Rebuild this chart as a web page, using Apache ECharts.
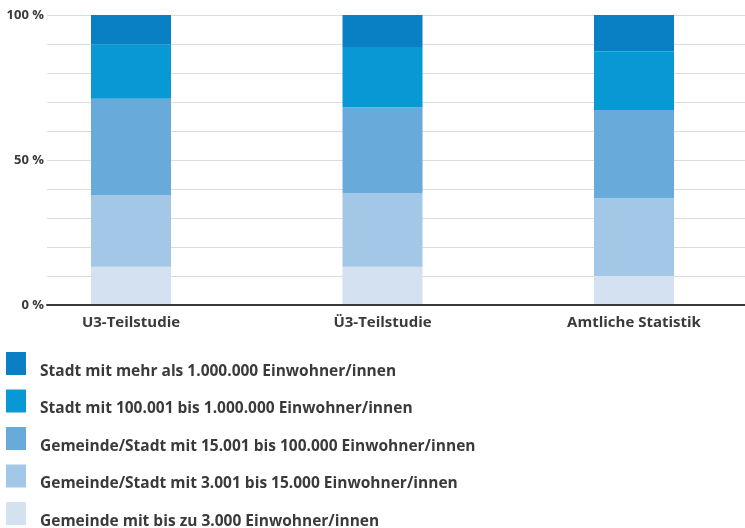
<!DOCTYPE html>
<html>
<head>
<meta charset="utf-8">
<script src="https://cdn.jsdelivr.net/npm/echarts@6/dist/echarts.min.js"></script>
<style>
  html, body { margin: 0; padding: 0; background: #fff; }
  #chart { width: 745px; height: 528px; }
</style>
</head>
<body>
<div id="chart"></div>
<script>
// Kategorien der x-Achse
const categories = ['U3-Teilstudie', 'Ü3-Teilstudie', 'Amtliche Statistik'];

// Anteile je Gemeindegrößenklasse in Prozent (von unten nach oben gestapelt)
const bis3000 = [13.2, 13.2, 10.0];
const von3001bis15000 = [24.7, 25.3, 26.8];
const von15001bis100000 = [33.2, 29.7, 30.4];
const von100001bis1Mio = [18.8, 20.8, 20.2];
const ueber1Mio = [10.1, 11.0, 12.6];

// Beschriftungen der y-Achse
const yTickLabels = { 0: '0 %', 50: '50 %', 100: '100 %' };

const seriesNames = [
  'Gemeinde mit bis zu 3.000 Einwohner/innen',
  'Gemeinde/Stadt mit 3.001 bis 15.000 Einwohner/innen',
  'Gemeinde/Stadt mit 15.001 bis 100.000 Einwohner/innen',
  'Stadt mit 100.001 bis 1.000.000 Einwohner/innen',
  'Stadt mit mehr als 1.000.000 Einwohner/innen'
];
const seriesData = [bis3000, von3001bis15000, von15001bis100000, von100001bis1Mio, ueber1Mio];
const colors = ['#d3e1f1', '#a3c7e6', '#68aad9', '#0899d5', '#0a80c4'];

const font = '"Open Sans", "DejaVu Sans", sans-serif';
const textColor = '#3a3a3a';

const chart = echarts.init(document.getElementById('chart'), null, { renderer: 'canvas' });

chart.setOption({
  animation: false,
  backgroundColor: '#ffffff',
  grid: [
    // Raster mit Hilfslinien und Nulllinie über die volle Breite
    { left: 47, right: 0, top: 15, height: 290 },
    // Raster für die Balken
    { left: 131, right: 111, top: 15, height: 290 }
  ],
  xAxis: [
    {
      gridIndex: 0, type: 'value', min: 0, max: 1, z: 5,
      axisLine: { show: true, onZero: false, lineStyle: { color: '#3a3a3a', width: 2 } },
      axisTick: { show: false }, axisLabel: { show: false }, splitLine: { show: false }
    },
    {
      gridIndex: 1, type: 'category', data: categories, boundaryGap: false,
      axisLine: { show: false }, axisTick: { show: false }, splitLine: { show: false },
      axisLabel: {
        margin: 10, color: textColor, fontFamily: font, fontWeight: 'bold', fontSize: 15
      }
    }
  ],
  yAxis: [
    {
      gridIndex: 0, type: 'value', min: 0, max: 100, interval: 10,
      axisLine: { show: false }, axisTick: { show: false },
      axisLabel: {
        margin: 3, color: textColor, fontFamily: font, fontWeight: 'bold', fontSize: 13,
        formatter: v => yTickLabels[v] || ''
      },
      splitLine: { show: true, lineStyle: { color: '#dcdcdc', width: 1 } }
    },
    {
      gridIndex: 1, type: 'value', min: 0, max: 100, show: false,
      splitLine: { show: false }
    }
  ],
  legend: {
    orient: 'vertical', left: 6, top: 352, height: 200, padding: 0,
    itemWidth: 20, itemHeight: 23, itemGap: 10, icon: 'rect',
    data: seriesNames.slice().reverse(),
    formatter: name => '{t|' + name + '}',
    textStyle: {
      color: textColor, fontFamily: font, fontWeight: 'bold', fontSize: 15.5,
      padding: [0, 0, 0, 9],
      rich: {
        t: {
          color: textColor, fontFamily: font, fontWeight: 'bold', fontSize: 15.5,
          padding: [16, 0, 0, 0]
        }
      }
    }
  },
  series: seriesNames.map((name, i) => ({
    name,
    type: 'bar',
    stack: 'anteil',
    xAxisIndex: 1,
    yAxisIndex: 1,
    barWidth: 80,
    data: seriesData[i],
    itemStyle: { color: colors[i] }
  }))
});
</script>
</body>
</html>
